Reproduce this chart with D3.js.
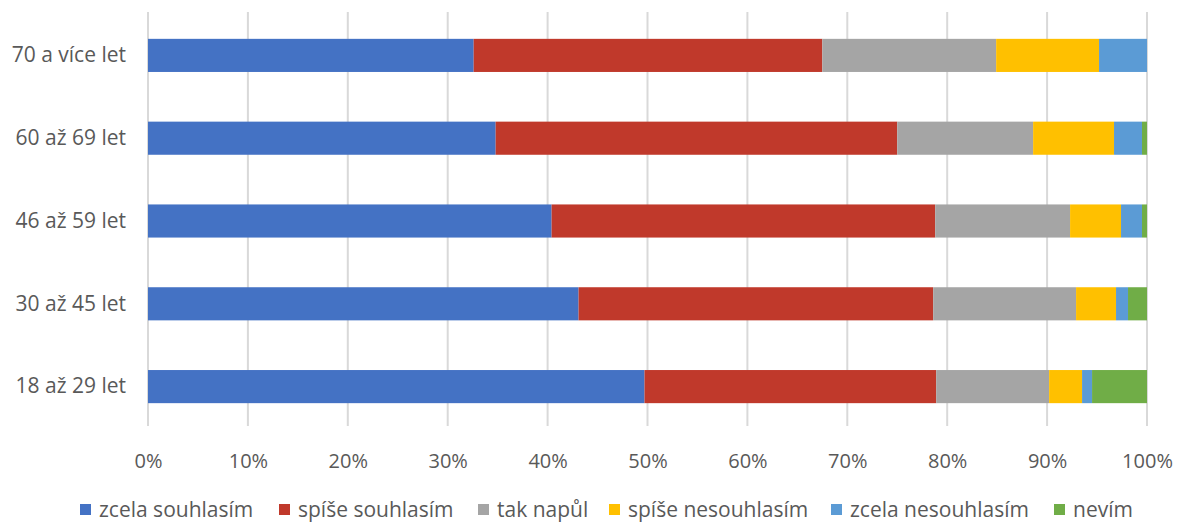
<!DOCTYPE html>
<html>
<head>
<meta charset="utf-8">
<script src="https://cdn.jsdelivr.net/npm/d3@7"></script>
<style>
  html, body { margin: 0; padding: 0; background: #fff; }
  svg { display: block; }
  text { font-family: "Open Sans", "Noto Sans", sans-serif; fill: #595959; }
</style>
</head>
<body>
<svg id="chart" width="1177" height="522"></svg>
<script>
const categories = ["70 a více let", "60 až 69 let", "46 až 59 let", "30 až 45 let", "18 až 29 let"];
const seriesNames = ["zcela souhlasím", "spíše souhlasím", "tak napůl", "spíše nesouhlasím", "zcela nesouhlasím", "nevím"];
const zcelaSouhlasim    = [32.6, 34.8, 40.4, 43.1, 49.7];
const spiseSouhlasim    = [34.9, 40.2, 38.4, 35.5, 29.2];
const takNapul          = [17.4, 13.6, 13.5, 14.3, 11.3];
const spiseNesouhlasim  = [10.3,  8.1,  5.1,  4.0,  3.3];
const zcelaNesouhlasim  = [ 4.8,  2.8,  2.1,  1.2,  1.0];
const nevim             = [ 0.0,  0.5,  0.5,  1.9,  5.5];
const colors = ["#4472C4", "#C0392B", "#A5A5A5", "#FFC000", "#5B9BD5", "#70AD47"];
const tickValues = [0, 10, 20, 30, 40, 50, 60, 70, 80, 90, 100];

const seriesValues = [zcelaSouhlasim, spiseSouhlasim, takNapul, spiseNesouhlasim, zcelaNesouhlasim, nevim];
const rows = categories.map((c, i) => {
  const r = { cat: c };
  seriesNames.forEach((s, j) => r[s] = seriesValues[j][i]);
  return r;
});

const svg = d3.select("#chart");
const margin = { left: 148, right: 30, top: 14, bottom: 94 };
const W = 1177, H = 522;
const x = d3.scaleLinear().domain([0, 100]).range([margin.left, W - margin.right]);
const y = d3.scaleBand().domain(categories).range([margin.top, H - margin.bottom]).paddingInner(0.6).paddingOuter(0.3);

// gridlines
svg.append("g").selectAll("line").data(tickValues).join("line")
  .attr("x1", d => x(d)).attr("x2", d => x(d))
  .attr("y1", 12).attr("y2", 426)
  .attr("stroke", "#D9D9D9").attr("stroke-width", 2);

const stack = d3.stack().keys(seriesNames)(rows);
svg.append("g").selectAll("g").data(stack).join("g")
  .attr("fill", (d, i) => colors[i])
  .selectAll("rect").data(d => d).join("rect")
  .attr("x", d => x(d[0]))
  .attr("width", d => Math.max(0, x(d[1]) - x(d[0])))
  .attr("y", d => y(d.data.cat))
  .attr("height", y.bandwidth());

// x axis labels
const xAxis = d3.axisBottom(x).tickValues(tickValues).tickFormat(d => d + "%").tickSize(0).tickPadding(0);
const gx = svg.append("g").attr("transform", "translate(0,461)").call(xAxis);
gx.select(".domain").remove();
gx.selectAll("text").attr("font-size", 20).attr("dy", "0.35em").style("font-family", "\"Open Sans\", sans-serif").attr("fill", "#595959");

// y axis labels
const yAxis = d3.axisLeft(y).tickSize(0).tickPadding(22);
const gy = svg.append("g").attr("transform", `translate(${margin.left},0)`).call(yAxis);
gy.select(".domain").remove();
gy.selectAll("text").attr("font-size", 21).style("font-family", "\"Open Sans\", sans-serif").attr("fill", "#595959");

// legend
const legendX = [80, 279, 478, 609, 831, 1054];
const lg = svg.append("g").selectAll("g").data(seriesNames).join("g")
  .attr("transform", (d, i) => `translate(${legendX[i]},510)`);
lg.append("rect").attr("x", 0).attr("y", -6).attr("width", 11).attr("height", 11).attr("fill", (d, i) => colors[i]);
lg.append("text").attr("x", 19).attr("y", 0).attr("dy", "0.35em").attr("font-size", 21).text(d => d);
</script>
</body>
</html>
